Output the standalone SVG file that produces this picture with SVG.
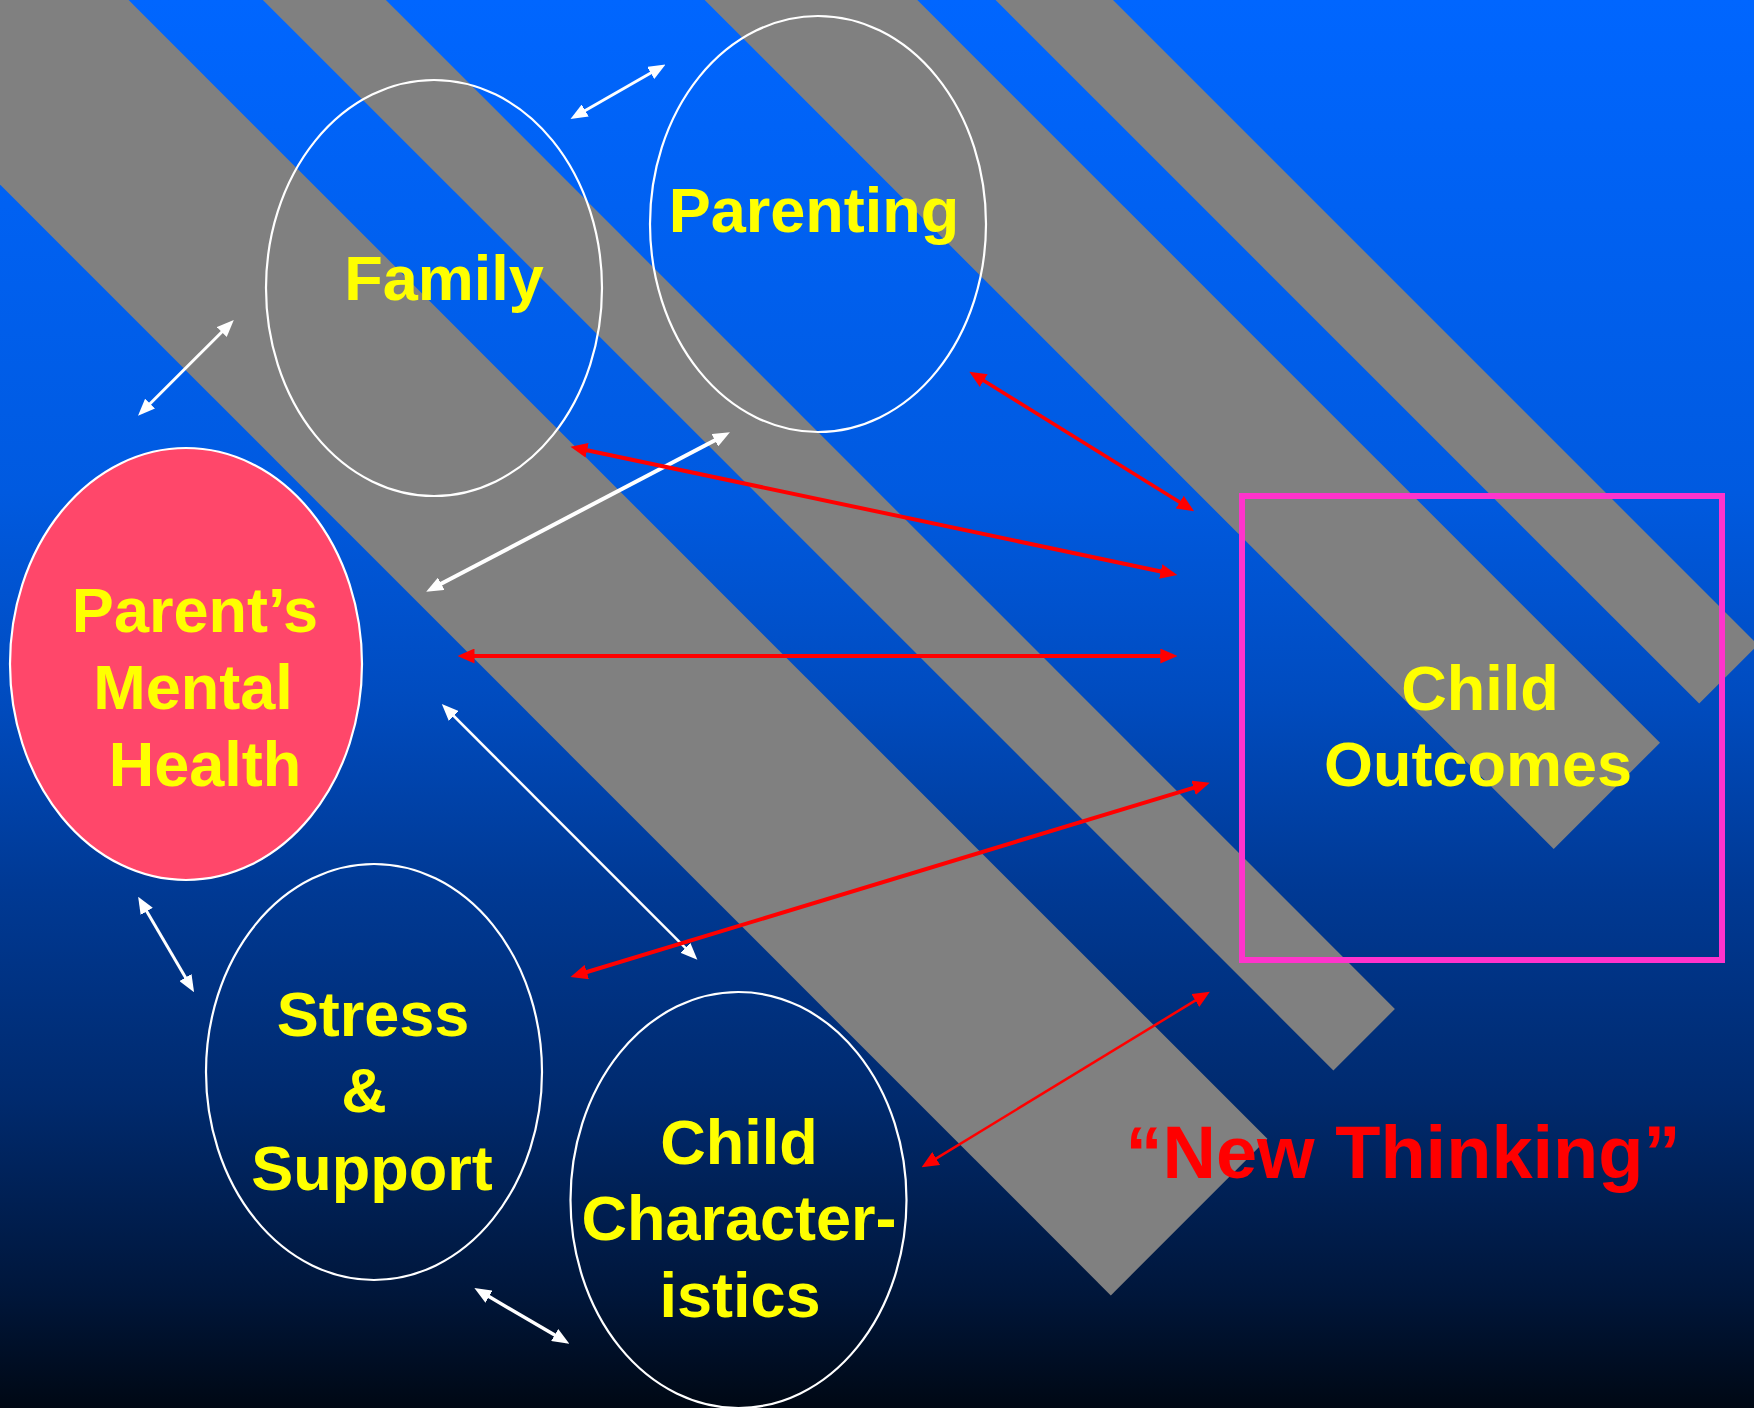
<svg xmlns="http://www.w3.org/2000/svg" width="1754" height="1408" viewBox="0 0 1754 1408">
  <defs>
    <linearGradient id="bg" x1="0" y1="0" x2="0" y2="1">
      <stop offset="0" stop-color="#0066FF"/>
      <stop offset="0.35" stop-color="#005AE0"/>
      <stop offset="0.5" stop-color="#004BBE"/>
      <stop offset="0.625" stop-color="#003A96"/>
      <stop offset="0.78" stop-color="#002A6E"/>
      <stop offset="0.92" stop-color="#00163A"/>
      <stop offset="1" stop-color="#000814"/>
    </linearGradient>
    <marker id="wh" viewBox="0 0 17 14" refX="5" refY="7" markerWidth="17" markerHeight="14" markerUnits="userSpaceOnUse" orient="auto-start-reverse">
      <path d="M0,0 L17,7 L0,14 Z" fill="#FFFFFF"/>
    </marker>
    <marker id="rh" viewBox="0 0 17 15" refX="5" refY="7.5" markerWidth="17" markerHeight="15" markerUnits="userSpaceOnUse" orient="auto-start-reverse">
      <path d="M0,0 L17,7.5 L0,15 Z" fill="#FF0000"/>
    </marker>
    <style>
      .stripe { fill: #808080; }
      .ell { fill: none; stroke: #FFFFFF; stroke-width: 2.2; }
      .lbl { font-family: "Liberation Sans", Arial, sans-serif; font-weight: bold; font-size: 63px; fill: #FFFF00; text-anchor: middle; }
      .wl { stroke: #FFFFFF; fill: none; marker-start: url(#wh); marker-end: url(#wh); }
      .rl { stroke: #FF0000; fill: none; marker-start: url(#rh); marker-end: url(#rh); }
    </style>
  </defs>

  <rect x="0" y="0" width="1754" height="1408" fill="url(#bg)"/>

  <g id="stripes">
    <polygon class="stripe" points="0,0 128.6,0 1267.4,1138.8 1110.8,1295.4 0,184.6"/>
    <polygon class="stripe" points="262.9,0 385.9,0 1394.9,1009 1333.4,1070.5"/>
    <polygon class="stripe" points="704.7,0 917.3,0 1660,742.7 1553.7,849"/>
    <polygon class="stripe" points="995.6,0 1113,0 1757.9,644.9 1699.2,703.6"/>
  </g>

  <g id="family">
    <ellipse class="ell" cx="434" cy="288" rx="168" ry="208"/>
    <text class="lbl" x="444" y="300">Family</text>
  </g>

  <g id="parenting">
    <ellipse class="ell" cx="818" cy="224" rx="168" ry="208"/>
    <text class="lbl" x="814" y="232">Parenting</text>
  </g>

  <g id="parents-mental-health">
    <ellipse cx="186" cy="664" rx="176" ry="216" fill="#FF476A" stroke="#FFFFFF" stroke-width="2.2"/>
    <text class="lbl" x="195" y="632">Parent’s</text>
    <text class="lbl" x="193" y="709">Mental</text>
    <text class="lbl" x="205" y="786">Health</text>
  </g>

  <g id="stress-support">
    <ellipse class="ell" cx="374" cy="1072" rx="168" ry="208"/>
    <text class="lbl" x="373" y="1036">Stress</text>
    <text class="lbl" x="364" y="1112">&amp;</text>
    <text class="lbl" x="372" y="1190">Support</text>
  </g>

  <g id="child-characteristics">
    <ellipse class="ell" cx="738.5" cy="1200" rx="168" ry="208"/>
    <text class="lbl" x="739" y="1164">Child</text>
    <text class="lbl" x="739" y="1240">Character-</text>
    <text class="lbl" x="740" y="1317">istics</text>
  </g>

  <g id="child-outcomes">
    <rect x="1242" y="496" width="480" height="464" fill="none" stroke="#FF33CC" stroke-width="6"/>
    <text class="lbl" x="1480" y="710">Child</text>
    <text class="lbl" x="1478" y="786">Outcomes</text>
  </g>

  <g id="connectors">
    <line class="wl" x1="580.9" y1="113.0" x2="655.1" y2="70.5" stroke-width="3"/>
    <line class="wl" x1="146.5" y1="407.2" x2="225.3" y2="328.5" stroke-width="3"/>
    <line class="wl" x1="436.8" y1="586.1" x2="719.3" y2="437.9" stroke-width="4"/>
    <line class="wl" x1="450.3" y1="712.5" x2="688.9" y2="951.3" stroke-width="2.5"/>
    <line class="wl" x1="144.2" y1="907.1" x2="188.0" y2="981.8" stroke-width="3"/>
    <line class="wl" x1="484.7" y1="1294.1" x2="559.0" y2="1337.6" stroke-width="3.5"/>

    <line class="rl" x1="979.5" y1="378.0" x2="1183.9" y2="504.8" stroke-width="3.5"/>
    <line class="rl" x1="582.2" y1="449.2" x2="1165.6" y2="572.5" stroke-width="4"/>
    <line class="rl" x1="469.5" y1="656" x2="1165.3" y2="656" stroke-width="4"/>
    <line class="rl" x1="582.0" y1="973.5" x2="1198.3" y2="786.3" stroke-width="4"/>
    <line class="rl" x1="931.9" y1="1161.1" x2="1199.6" y2="997.9" stroke-width="2.5"/>
  </g>

  <text x="1403" y="1178" font-family="'Liberation Sans', Arial, sans-serif" font-weight="bold" font-size="74" fill="#FF0000" text-anchor="middle">“New Thinking”</text>
</svg>
